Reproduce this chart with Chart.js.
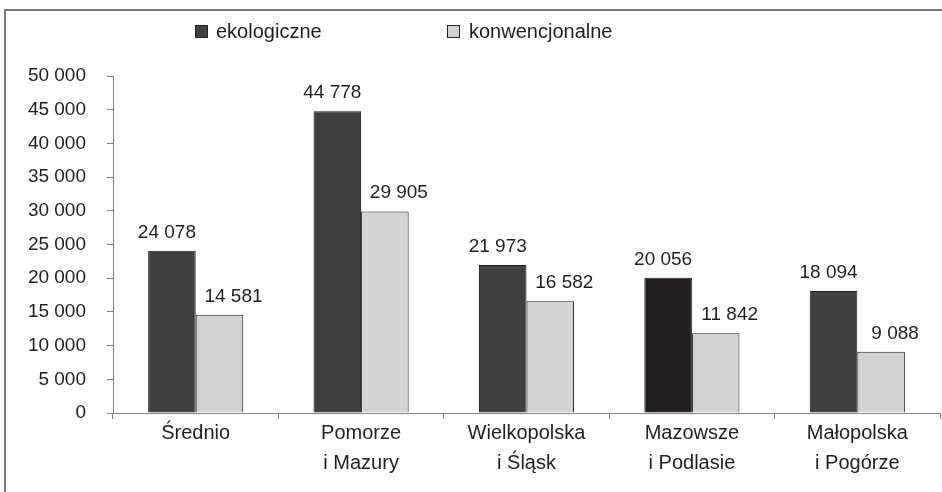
<!DOCTYPE html>
<html>
<head>
<meta charset="utf-8">
<script src="https://cdn.jsdelivr.net/npm/chart.js@4/dist/chart.umd.min.js"></script>
<style>
  html, body { margin: 0; padding: 0; background: #ffffff; }
  #wrap { width: 942px; height: 492px; position: relative; }
</style>
</head>
<body>
<div id="wrap"><canvas id="c" width="942" height="492"></canvas></div>
<script>
const categories = ["Średnio", ["Pomorze", "i Mazury"], ["Wielkopolska", "i Śląsk"], ["Mazowsze", "i Podlasie"], ["Małopolska", "i Pogórze"]];
const seriesNames = ["ekologiczne", "konwencjonalne"];
const ekologiczne = [24078, 44778, 21973, 20056, 18094];
const konwencjonalne = [14581, 29905, 16582, 11842, 9088];
const yTicks = [0, 5000, 10000, 15000, 20000, 25000, 30000, 35000, 40000, 45000, 50000];

const FONT = "'Liberation Sans', Arial, sans-serif";
const TEXT = "#1e1e1e";
const AXIS = "#808080";
const DARK = "#404040";
const DARKEST = "#231f20";
const LIGHT = "#d2d3d5";

function fmt(v) {
  return String(v).replace(/\B(?=(\d{3})+(?!\d))/g, " ");
}

const framePlugin = {
  id: "frame",
  beforeDraw(chart) {
    const ctx = chart.ctx;
    ctx.save();
    ctx.strokeStyle = "#7a7a7a";
    ctx.lineWidth = 2;
    ctx.beginPath();
    ctx.moveTo(5, 492);
    ctx.lineTo(5, 10);
    ctx.lineTo(942, 10);
    ctx.stroke();
    ctx.restore();
  }
};

const legendPlugin = {
  id: "customLegend",
  afterDraw(chart) {
    const ctx = chart.ctx;
    const pos = [[195, 216], [447, 469]];
    ctx.save();
    ctx.font = "20px " + FONT;
    ctx.textBaseline = "middle";
    ctx.textAlign = "left";
    chart.data.datasets.forEach((ds, i) => {
      const [bx, tx] = pos[i];
      ctx.fillStyle = Array.isArray(ds.backgroundColor) ? ds.backgroundColor[0] : ds.backgroundColor;
      ctx.fillRect(bx, 25, 13, 13);
      ctx.strokeStyle = "#222";
      ctx.lineWidth = 1;
      ctx.strokeRect(bx + 0.5, 25.5, 12, 12);
      ctx.fillStyle = TEXT;
      ctx.fillText(ds.label, tx, 32);
    });
    ctx.restore();
  }
};

const valueLabelPlugin = {
  id: "valueLabels",
  afterDatasetsDraw(chart) {
    const ctx = chart.ctx;
    ctx.save();
    ctx.font = "19px " + FONT;
    ctx.fillStyle = TEXT;
    ctx.textAlign = "center";
    ctx.textBaseline = "alphabetic";
    const offs = [-5, 14];
    chart.data.datasets.forEach((ds, di) => {
      const meta = chart.getDatasetMeta(di);
      meta.data.forEach((el, i) => {
        ctx.fillText(fmt(ds.data[i]), el.x + offs[di], el.y - 13);
      });
    });
    ctx.restore();
  }
};

new Chart(document.getElementById("c"), {
  type: "bar",
  data: {
    labels: categories,
    datasets: [
      {
        label: seriesNames[0],
        data: ekologiczne,
        backgroundColor: [DARK, DARK, DARK, DARKEST, DARK],
        borderColor: "#1a1a1a",
        borderWidth: 1,
        categoryPercentage: 0.575,
        barPercentage: 1.0
      },
      {
        label: seriesNames[1],
        data: konwencjonalne,
        backgroundColor: LIGHT,
        borderColor: "#1a1a1a",
        borderWidth: 1,
        categoryPercentage: 0.575,
        barPercentage: 1.0
      }
    ]
  },
  options: {
    responsive: false,
    animation: false,
    devicePixelRatio: 1,
    layout: { padding: { top: 76, right: 2, left: 0, bottom: 0 } },
    plugins: {
      legend: { display: false },
      tooltip: { enabled: false }
    },
    scales: {
      x: {
        grid: { display: true, drawOnChartArea: false, offset: true, color: AXIS, tickLength: 6, tickWidth: 1 },
        border: { display: true, color: AXIS, width: 1 },
        ticks: {
          color: TEXT,
          font: { family: FONT, size: 20, lineHeight: 1.5 },
          padding: -1,
          maxRotation: 0,
          autoSkip: false
        },
        afterFit(scale) { scale.height = 79; }
      },
      y: {
        min: 0,
        max: 50000,
        afterBuildTicks(scale) { scale.ticks = yTicks.map(v => ({ value: v })); },
        grid: { display: true, drawOnChartArea: false, color: AXIS, tickLength: 6, tickWidth: 1 },
        border: { display: true, color: AXIS, width: 1 },
        ticks: {
          color: TEXT,
          font: { family: FONT, size: 19 },
          padding: 21,
          callback: (v) => fmt(v)
        },
        afterFit(scale) { scale.width = 113; }
      }
    }
  },
  plugins: [framePlugin, legendPlugin, valueLabelPlugin]
});
</script>
</body>
</html>
